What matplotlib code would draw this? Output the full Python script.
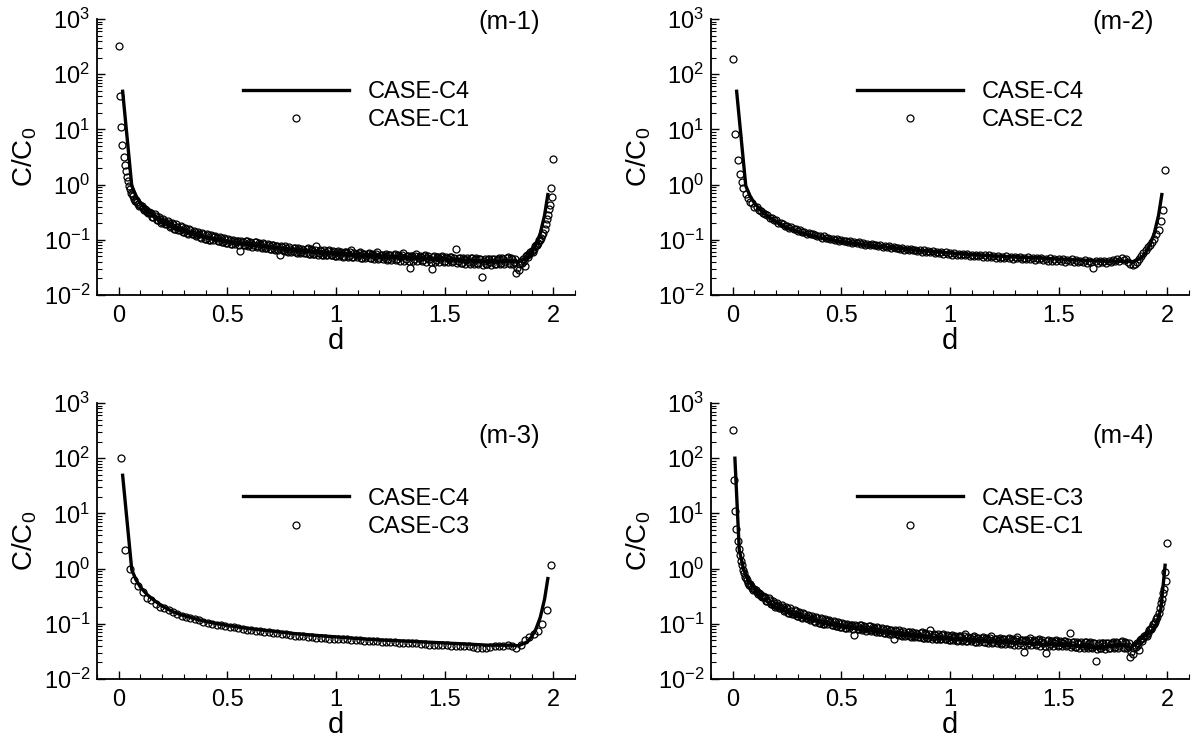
import matplotlib
matplotlib.use("Agg")
import matplotlib.pyplot as plt
import numpy as np
from matplotlib.ticker import MultipleLocator, FuncFormatter, LogLocator, NullFormatter

plt.rcParams['font.family'] = ['Liberation Sans', 'DejaVu Sans']
plt.rcParams['mathtext.fontset'] = 'custom'
plt.rcParams['mathtext.rm'] = 'Liberation Sans'

############# DATA #############

# CASE-C4 (solid line, panels m-1 .. m-3)
d_c4 = [0.018, 0.06, 0.08, 0.10, 0.13, 0.16, 0.20, 0.25, 0.30, 0.40, 0.50, 0.60,
        0.70, 0.80, 0.90, 1.00, 1.10, 1.20, 1.30, 1.40, 1.50, 1.60, 1.70, 1.80,
        1.84, 1.88, 1.90, 1.92, 1.94, 1.96, 1.975]
c4 = [49, 0.95, 0.62, 0.46, 0.34, 0.27, 0.21, 0.165, 0.14, 0.11, 0.093, 0.082,
      0.074, 0.067, 0.062, 0.058, 0.054, 0.051, 0.049, 0.047, 0.045, 0.043, 0.041, 0.041,
      0.040, 0.047, 0.058, 0.080, 0.13, 0.28, 0.66]

# CASE-C1 (circles, panels m-1 and m-4)
# steep head near d=0
d_c1_head = [0.0, 0.006, 0.011, 0.017, 0.023, 0.028, 0.032, 0.037, 0.041, 0.045]
c1_head = [330, 41, 11, 5.2, 3.2, 2.3, 1.8, 1.4, 1.15, 0.95]
# body, every 0.01 from 0.05 to 2.00
c1_body = [
    0.82, 0.68, 0.55, 0.52, 0.44, 0.42, 0.37, 0.36, 0.32, 0.32,
    0.30, 0.26, 0.27, 0.23, 0.24, 0.21, 0.22, 0.19, 0.20, 0.18,
    0.19, 0.16, 0.17, 0.15, 0.17, 0.14, 0.155, 0.13, 0.15, 0.125,
    0.14, 0.12, 0.13, 0.11, 0.125, 0.105, 0.12, 0.10, 0.118, 0.112,
    0.11, 0.095, 0.108, 0.09, 0.102, 0.088, 0.10, 0.083, 0.097, 0.09,
    0.094, 0.062, 0.09, 0.082, 0.095, 0.08, 0.087, 0.079, 0.09, 0.076,
    0.085, 0.072, 0.083, 0.071, 0.08, 0.068, 0.079, 0.066, 0.076, 0.052,
    0.074, 0.063, 0.071, 0.06, 0.069, 0.062, 0.072, 0.058, 0.067, 0.061,
    0.066, 0.058, 0.07, 0.056, 0.064, 0.055, 0.078, 0.057, 0.063, 0.054,
    0.061, 0.053, 0.064, 0.052, 0.059, 0.05, 0.062, 0.055, 0.049, 0.06,
    0.058, 0.05, 0.065, 0.049, 0.056, 0.052, 0.06, 0.047, 0.055, 0.05,
    0.057, 0.047, 0.054, 0.05, 0.06, 0.046, 0.053, 0.049, 0.056, 0.045,
    0.052, 0.047, 0.055, 0.044, 0.051, 0.048, 0.058, 0.045, 0.05, 0.031,
    0.05, 0.044, 0.055, 0.046, 0.049, 0.043, 0.052, 0.047, 0.045, 0.029,
    0.05, 0.043, 0.048, 0.045, 0.051, 0.042, 0.047, 0.044, 0.049, 0.041,
    0.068, 0.042, 0.047, 0.038, 0.045, 0.043, 0.04, 0.046, 0.039, 0.044,
    0.038, 0.045, 0.021, 0.042, 0.036, 0.045, 0.039, 0.044, 0.037, 0.043,
    0.046, 0.038, 0.044, 0.04, 0.048, 0.036, 0.045, 0.039, 0.025, 0.028,
    0.041, 0.045, 0.034, 0.052, 0.056, 0.063, 0.068, 0.08, 0.088, 0.10,
    0.12, 0.16, 0.24, 0.36, 0.88, 2.9,
]
# body, in between: every 0.01 from 0.055 to 1.995
c1_body_b = [
    0.70, 0.63, 0.51, 0.49, 0.41, 0.41, 0.35, 0.35, 0.31, 0.31,
    0.26, 0.29, 0.23, 0.26, 0.20, 0.24, 0.19, 0.22, 0.17, 0.20,
    0.16, 0.19, 0.15, 0.175, 0.14, 0.165, 0.135, 0.158, 0.125, 0.145,
    0.118, 0.14, 0.112, 0.132, 0.105, 0.128, 0.10, 0.124, 0.098, 0.115,
    0.096, 0.113, 0.09, 0.108, 0.088, 0.104, 0.085, 0.10, 0.083, 0.097,
    0.08, 0.097, 0.079, 0.094, 0.077, 0.092, 0.075, 0.09, 0.074, 0.088,
    0.073, 0.086, 0.071, 0.084, 0.069, 0.082, 0.067, 0.078, 0.065, 0.076,
    0.064, 0.076, 0.062, 0.074, 0.06, 0.072, 0.059, 0.07, 0.058, 0.069,
    0.058, 0.068, 0.056, 0.067, 0.055, 0.066, 0.054, 0.065, 0.053, 0.064,
    0.053, 0.063, 0.052, 0.062, 0.051, 0.061, 0.05, 0.06, 0.05, 0.059,
    0.049, 0.059, 0.048, 0.058, 0.048, 0.057, 0.047, 0.056, 0.046, 0.056,
    0.046, 0.055, 0.045, 0.055, 0.044, 0.054, 0.044, 0.053, 0.043, 0.053,
    0.043, 0.053, 0.043, 0.052, 0.042, 0.052, 0.042, 0.051, 0.041, 0.051,
    0.042, 0.051, 0.041, 0.05, 0.041, 0.05, 0.04, 0.05, 0.04, 0.049,
    0.04, 0.049, 0.04, 0.049, 0.039, 0.048, 0.039, 0.048, 0.039, 0.047,
    0.038, 0.047, 0.038, 0.047, 0.037, 0.046, 0.037, 0.046, 0.036, 0.046,
    0.036, 0.045, 0.035, 0.045, 0.036, 0.044, 0.035, 0.045, 0.036, 0.045,
    0.036, 0.046, 0.037, 0.047, 0.038, 0.046, 0.036, 0.045, 0.031, 0.037,
    0.038, 0.042, 0.05, 0.048, 0.06, 0.06, 0.078, 0.08, 0.10, 0.11,
    0.135, 0.19, 0.28, 0.43, 0.60,
]

# CASE-C2 (circles, panel m-2): head + body every 0.01 from 0.06 to 1.99
d_c2_head = [0.003, 0.012, 0.023, 0.032, 0.041, 0.049]
c2_head = [186, 8.1, 2.75, 1.58, 1.12, 0.85]
c2_body = [
    0.68, 0.58, 0.49, 0.46, 0.40, 0.39, 0.34, 0.33, 0.30, 0.29,
    0.28, 0.25, 0.245, 0.225, 0.225, 0.205, 0.2, 0.195, 0.18, 0.18,
    0.165, 0.17, 0.155, 0.16, 0.145, 0.15, 0.138, 0.14, 0.13, 0.132,
    0.125, 0.128, 0.12, 0.118, 0.117, 0.11, 0.115, 0.107, 0.11, 0.103,
    0.104, 0.1, 0.102, 0.096, 0.099, 0.094, 0.097, 0.09, 0.094, 0.088,
    0.092, 0.086, 0.09, 0.084, 0.088, 0.082, 0.085, 0.08, 0.083, 0.079,
    0.081, 0.077, 0.08, 0.075, 0.078, 0.073, 0.076, 0.072, 0.074, 0.07,
    0.072, 0.068, 0.071, 0.066, 0.069, 0.065, 0.067, 0.064, 0.066, 0.062,
    0.065, 0.061, 0.064, 0.06, 0.063, 0.059, 0.062, 0.058, 0.061, 0.057,
    0.06, 0.056, 0.059, 0.055, 0.058, 0.054, 0.057, 0.053, 0.056, 0.052,
    0.056, 0.052, 0.055, 0.051, 0.054, 0.05, 0.053, 0.05, 0.052, 0.049,
    0.053, 0.049, 0.052, 0.048, 0.051, 0.047, 0.05, 0.047, 0.049, 0.046,
    0.05, 0.046, 0.049, 0.045, 0.048, 0.046, 0.049, 0.044, 0.047, 0.045,
    0.048, 0.044, 0.047, 0.043, 0.046, 0.044, 0.047, 0.043, 0.045, 0.042,
    0.046, 0.042, 0.045, 0.041, 0.044, 0.042, 0.045, 0.04, 0.043, 0.041,
    0.044, 0.04, 0.043, 0.039, 0.042, 0.04, 0.043, 0.038, 0.041, 0.039,
    0.031, 0.041, 0.038, 0.042, 0.039, 0.041, 0.038, 0.042, 0.04, 0.043,
    0.041, 0.044, 0.042, 0.046, 0.043, 0.045, 0.04, 0.036, 0.035, 0.037,
    0.04, 0.045, 0.05, 0.058, 0.065, 0.074, 0.082, 0.092, 0.105, 0.13,
    0.15, 0.22, 0.34, 1.87,
]

# CASE-C3 (circles in m-3, solid line in m-4): every 0.02 from 0.01 to 1.99
c3 = [
    100, 2.2, 0.97, 0.62, 0.49, 0.38, 0.29, 0.27, 0.23, 0.20,
    0.19, 0.175, 0.165, 0.148, 0.14, 0.133, 0.127, 0.122, 0.117, 0.11,
    0.103, 0.10, 0.097, 0.094, 0.091, 0.089, 0.086, 0.084, 0.082, 0.078,
    0.076, 0.075, 0.073, 0.071, 0.07, 0.068, 0.067, 0.065, 0.064, 0.062,
    0.061, 0.06, 0.059, 0.058, 0.057, 0.056, 0.055, 0.055, 0.054, 0.054,
    0.053, 0.052, 0.052, 0.051, 0.05, 0.05, 0.049, 0.049, 0.048, 0.048,
    0.047, 0.047, 0.046, 0.046, 0.045, 0.045, 0.045, 0.044, 0.044, 0.043,
    0.043, 0.042, 0.042, 0.042, 0.041, 0.041, 0.04, 0.04, 0.04, 0.039,
    0.039, 0.038, 0.037, 0.036, 0.036, 0.038, 0.039, 0.04, 0.04, 0.041,
    0.04, 0.037, 0.042, 0.05, 0.058, 0.064, 0.075, 0.10, 0.18, 1.15,
]

d_c1 = np.concatenate([d_c1_head, np.linspace(0.05, 2.0, len(c1_body)),
                       np.linspace(0.055, 1.995, len(c1_body_b))])
c1 = np.concatenate([c1_head, c1_body, c1_body_b])
d_c2 = np.concatenate([d_c2_head, np.linspace(0.06, 1.99, len(c2_body))])
c2 = np.concatenate([c2_head, c2_body])
d_c3 = np.linspace(0.01, 1.99, len(c3))

panels = [
    # (line d, line values, line label, point d, point values, point label, tag)
    (d_c4, c4, 'CASE-C4', d_c1, c1, 'CASE-C1', '(m-1)'),
    (d_c4, c4, 'CASE-C4', d_c2, c2, 'CASE-C2', '(m-2)'),
    (d_c4, c4, 'CASE-C4', d_c3, c3, 'CASE-C3', '(m-3)'),
    (d_c3, c3, 'CASE-C3', d_c1, c1, 'CASE-C1', '(m-4)'),
]

# axes boxes in pixels (left, top) of a 1193x744 figure, each 478x276
W, H = 1193, 744
boxes = [(97, 19), (711, 19), (97, 403), (711, 403)]
leg_y = [0.853, 0.853, 0.77, 0.77]
tag_y = [0.99, 0.99, 0.88, 0.88]

fig = plt.figure(figsize=(W / 100, H / 100), dpi=100)

for (ld, lv, llab, pd, pv, plab, tag), (bx, by), ly, ty in zip(panels, boxes, leg_y, tag_y):
    ax = fig.add_axes([bx / W, 1 - (by + 276) / H, 478 / W, 276 / H])
    ax.plot(pd, pv, 'o', ms=5, mfc='none', mec='black', mew=0.9, label=plab)
    ax.plot(ld, lv, '-', color='black', lw=2.4, label=llab)

    ax.set_yscale('log')
    ax.set_xlim(-0.1, 2.1)
    ax.set_ylim(1e-2, 1e3)
    ax.spines['top'].set_visible(False)
    ax.spines['right'].set_visible(False)
    ax.spines['left'].set_linewidth(1.3)
    ax.spines['bottom'].set_linewidth(1.3)

    ax.xaxis.set_major_locator(MultipleLocator(0.5))
    ax.xaxis.set_minor_locator(MultipleLocator(0.1))
    ax.xaxis.set_major_formatter(FuncFormatter(lambda v, p: '%g' % v))
    ax.yaxis.set_major_locator(LogLocator(base=10, numticks=10))
    ax.yaxis.set_minor_locator(LogLocator(base=10, subs=np.arange(2, 10), numticks=20))
    ax.yaxis.set_minor_formatter(NullFormatter())
    ax.tick_params(which='both', direction='in', top=False, right=False, labelsize=17)
    ax.tick_params(which='major', length=6, width=1.0)
    ax.tick_params(which='minor', length=3.5, width=0.8)
    ax.tick_params(axis='x', which='major', pad=7)
    ax.tick_params(axis='y', which='major', pad=5)

    ax.set_xlabel('d', fontsize=21, labelpad=0)
    ax.set_ylabel('C/C$_0$', fontsize=20, labelpad=3)

    h, l = ax.get_legend_handles_labels()
    ax.legend(h[::-1], l[::-1], loc='upper left', bbox_to_anchor=(0.26, ly),
              frameon=False, fontsize=17, handlelength=4.5, handletextpad=0.8,
              labelspacing=0.28, markerscale=1.0)
    ax.text(0.862, ty, tag, transform=ax.transAxes, ha='center', va='center', fontsize=18.5)

fig.savefig('out.png', dpi=100)
